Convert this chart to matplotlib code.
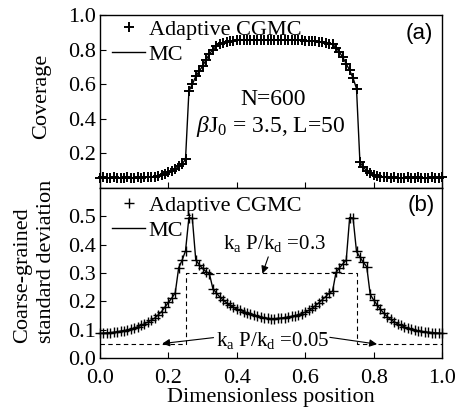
import numpy as np
import matplotlib
matplotlib.use("Agg")
import matplotlib.pyplot as plt

plt.rcParams['font.family'] = ['Liberation Serif', 'DejaVu Serif']
plt.rcParams['mathtext.fontset'] = 'custom'
plt.rcParams['mathtext.rm'] = 'Liberation Serif'
plt.rcParams['mathtext.it'] = 'Liberation Serif:italic'

# position grid (dimensionless)
position = np.linspace(0.0, 1.0, 101)

# (a) coverage
coverage = [0.060, 0.061, 0.059, 0.060, 0.061, 0.060, 0.059, 0.060, 0.061, 0.060,
            0.060, 0.061, 0.060, 0.061, 0.062, 0.063, 0.066, 0.070, 0.076, 0.083,
            0.090, 0.100, 0.110, 0.125, 0.140, 0.165, 0.560, 0.600, 0.645, 0.675,
            0.705, 0.740, 0.775, 0.800, 0.818, 0.830, 0.838, 0.845, 0.848, 0.850,
            0.853, 0.855, 0.854, 0.856, 0.855, 0.857, 0.856, 0.855, 0.857, 0.856,
            0.858, 0.856, 0.855, 0.857, 0.856, 0.855, 0.856, 0.854, 0.855, 0.853,
            0.852, 0.851, 0.850, 0.848, 0.845, 0.842, 0.838, 0.832, 0.830, 0.812,
            0.785, 0.755, 0.718, 0.680, 0.635, 0.575, 0.150, 0.120, 0.100, 0.085,
            0.075, 0.068, 0.064, 0.062, 0.061, 0.060, 0.061, 0.060, 0.059, 0.060,
            0.061, 0.060, 0.060, 0.061, 0.060, 0.059, 0.060, 0.061, 0.060, 0.060,
            0.061]

# (b) coarse-grained standard deviation
std_dev = [0.087, 0.088, 0.089, 0.090, 0.091, 0.093, 0.095, 0.097, 0.099, 0.102,
           0.106, 0.110, 0.115, 0.121, 0.127, 0.134, 0.141, 0.152, 0.164, 0.180,
           0.196, 0.212, 0.230, 0.318, 0.345, 0.378, 0.496, 0.493, 0.346, 0.330,
           0.316, 0.305, 0.297, 0.245, 0.230, 0.216, 0.205, 0.195, 0.186, 0.179,
           0.173, 0.168, 0.164, 0.160, 0.156, 0.152, 0.148, 0.145, 0.142, 0.140,
           0.139, 0.139, 0.140, 0.141, 0.143, 0.145, 0.147, 0.150, 0.153, 0.157,
           0.162, 0.168, 0.175, 0.185, 0.195, 0.206, 0.217, 0.229, 0.236, 0.302,
           0.318, 0.332, 0.346, 0.496, 0.494, 0.376, 0.356, 0.338, 0.322, 0.225,
           0.205, 0.188, 0.172, 0.158, 0.146, 0.136, 0.128, 0.121, 0.115, 0.110,
           0.106, 0.102, 0.099, 0.096, 0.094, 0.092, 0.091, 0.090, 0.089, 0.088,
           0.087]

# dashed pressure profile k_a P / k_d
profile_x = [0.0, 0.25, 0.25, 0.75, 0.75, 1.0]
profile_y = [0.05, 0.05, 0.3, 0.3, 0.05, 0.05]

fs = 16
fig = plt.figure(figsize=(4.56, 4.15), dpi=100)
ax1 = fig.add_axes([0.2193, 0.5469, 0.75, 0.417])
ax2 = fig.add_axes([0.2193, 0.1373, 0.75, 0.4096])

for ax, vals, mew, top in ((ax1, coverage, 1.4, 0.975), (ax2, std_dev, 1.0, 0.955)):
    ax.plot(position, vals, color='k', lw=1.0, label='MC')
    ax.plot(position, vals, linestyle='None', marker='+',
            ms=7.5, mew=mew, color='k', clip_on=False, label='Adaptive CGMC')
    ax.set_xlim(0, 1.0)
    ax.set_xticks([0.0, 0.2, 0.4, 0.6, 0.8, 1.0])
    ax.tick_params(direction='in', length=4, width=0.8, labelsize=fs,
                   top=False, right=False)
    ax.tick_params(axis='x', pad=8)
    ax.tick_params(axis='y', pad=3)
    for s in ax.spines.values():
        s.set_linewidth(1.0)
    h, l = ax.get_legend_handles_labels()
    ax.legend([h[1], h[0]], [l[1], l[0]], loc='upper left', frameon=False, fontsize=fs,
              handlelength=1.5, handletextpad=0.15, labelspacing=0.2, borderaxespad=0.0,
              borderpad=0.0, bbox_to_anchor=(0.035, top), numpoints=1)

# (a)
ax1.set_ylim(0, 1.0)
ax1.set_yticks([0.2, 0.4, 0.6, 0.8, 1.0])
ax1.set_yticklabels(['0.2', '0.4', '0.6', '0.8', '1.0'])
ax1.set_xticklabels([])
ax1.set_ylabel('Coverage', fontsize=fs)
ax1.yaxis.set_label_coords(-0.143, 0.53)
ax1.text(0.505, 0.51, 'N=600', fontsize=17, ha='center', va='center')
ax1.text(0.5, 0.355, r'$\beta$J$_{\rm 0}$ = 3.5, L=50', fontsize=17, ha='center', va='center')
ax1.text(0.935, 0.895, '(a)', fontsize=fs, ha='center', va='center',
         family='Liberation Sans', transform=ax1.transAxes)

# (b)
ax2.plot(profile_x, profile_y, color='k', lw=0.8, linestyle=(0, (4, 3)))
ax2.set_ylim(0, 0.6)
ax2.set_yticks([0.0, 0.1, 0.2, 0.3, 0.4, 0.5])
ax2.set_xticklabels(['0.0', '0.2', '0.4', '0.6', '0.8', '1.0'])
ax2.set_xlabel('Dimensionless position', fontsize=fs, labelpad=0)
ax2.set_ylabel('Coarse-grained\nstandard deviation', fontsize=fs,
               multialignment='left', linespacing=1.35)
ax2.yaxis.set_label_coords(-0.13, 0.57)
ax2.text(0.51, 0.405, r'k$_{\rm a}$ P/k$_{\rm d}$ =0.3', fontsize=15, ha='center', va='center')
ax2.text(0.505, 0.062, r'k$_{\rm a}$ P/k$_{\rm d}$ =0.05', fontsize=15, ha='center', va='center')
arrow = dict(arrowstyle='-|>', color='k', lw=0.8, mutation_scale=11, shrinkA=0, shrinkB=0)
ax2.annotate('', xy=(0.475, 0.298), xytext=(0.492, 0.357), arrowprops=arrow)
ax2.annotate('', xy=(0.182, 0.051), xytext=(0.332, 0.072), arrowprops=arrow)
ax2.annotate('', xy=(0.81, 0.049), xytext=(0.672, 0.073), arrowprops=arrow)
ax2.text(0.94, 0.9, '(b)', fontsize=fs, ha='center', va='center',
         family='Liberation Sans', transform=ax2.transAxes)

plt.savefig('out.png', dpi=100)
